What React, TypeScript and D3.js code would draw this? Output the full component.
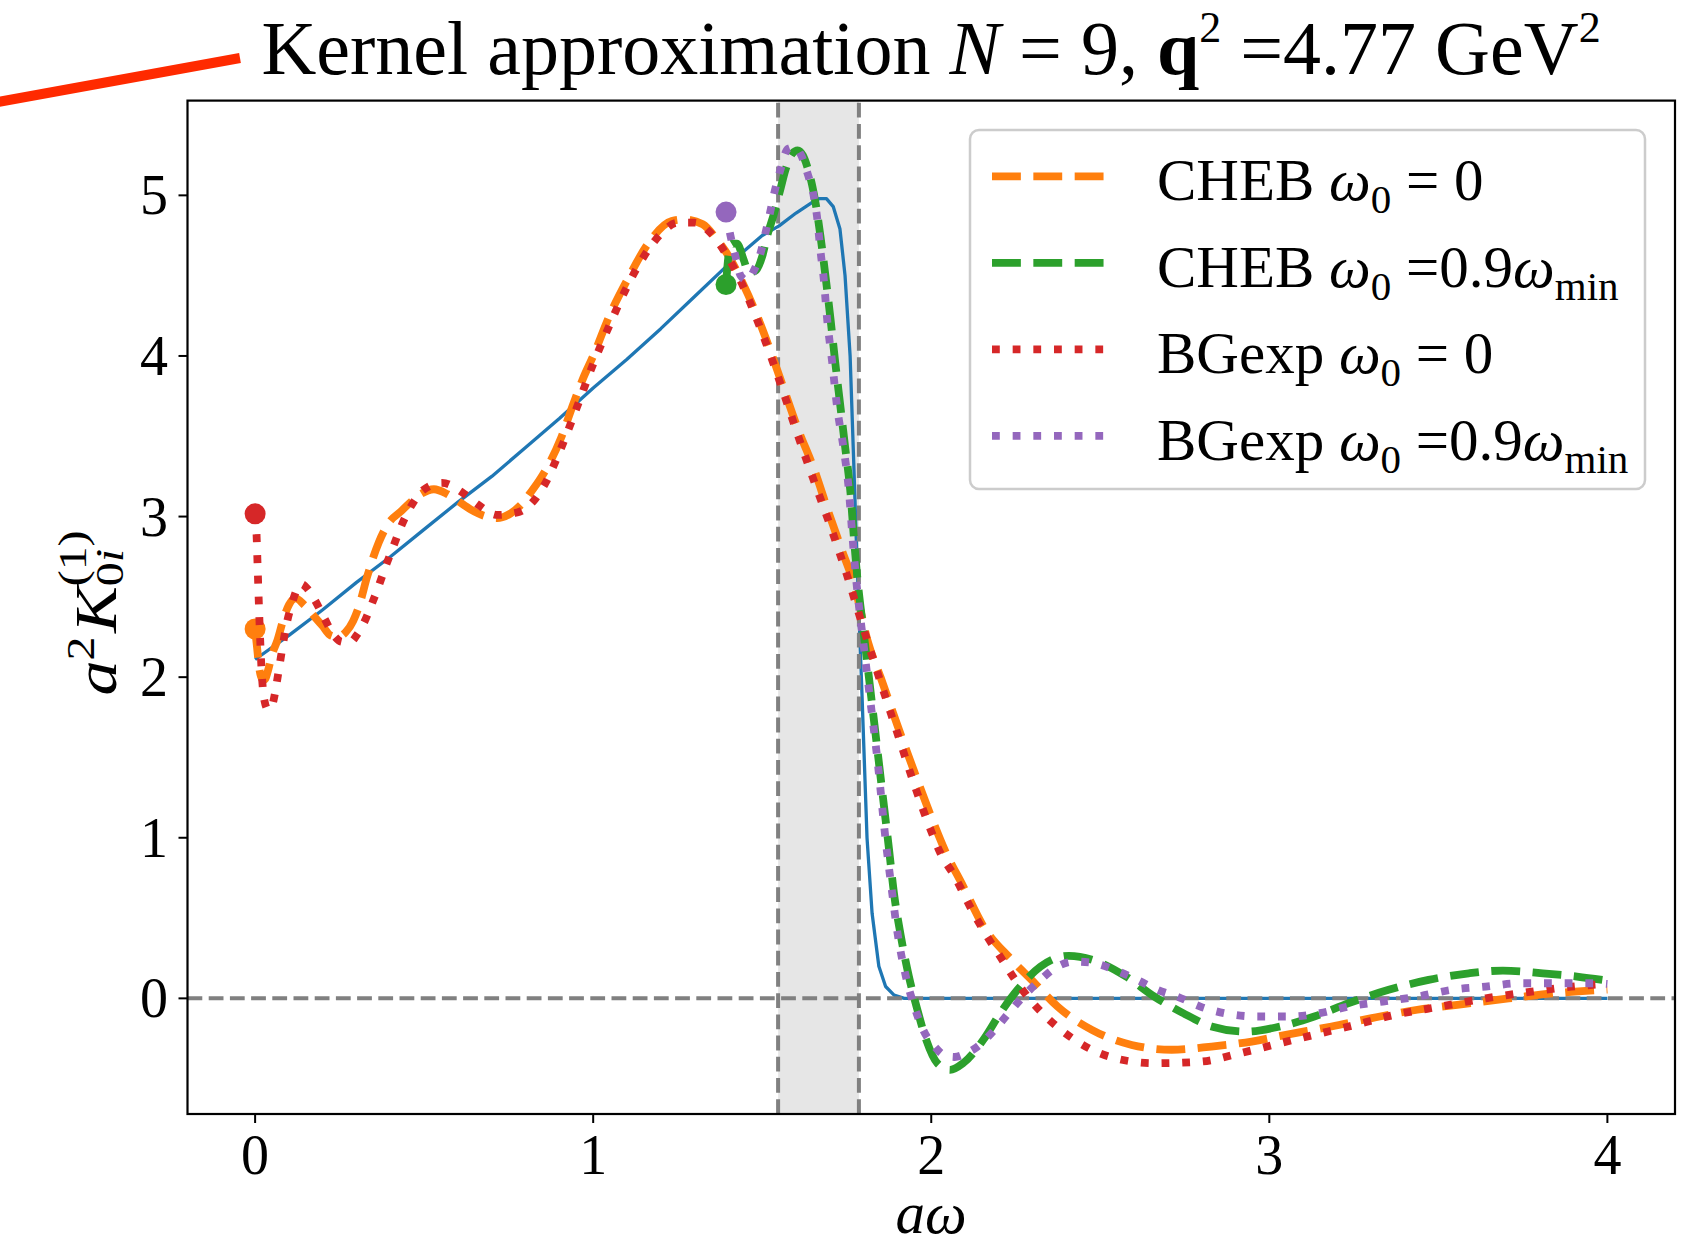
import React from 'react';
import * as d3 from 'd3';

const W = 1696;
const H = 1248;
const FONT = "'Liberation Serif', 'Times New Roman', serif";

const xTicks = [0, 1, 2, 3, 4];
const yTicks = [0, 1, 2, 3, 4, 5];
const xDomain = [-0.2, 4.2];
const yDomain = [-0.72, 5.59];
const bandRange = [1.547, 1.786];

// exact kernel (solid blue)
const exactX = [0, 0.1, 0.2, 0.3, 0.4, 0.5, 0.6, 0.7, 0.8, 0.9, 1.0, 1.1, 1.2, 1.3, 1.4, 1.5, 1.55, 1.6, 1.65, 1.67, 1.69, 1.71, 1.73, 1.745, 1.76, 1.77, 1.78, 1.795, 1.81, 1.825, 1.845, 1.865, 1.89, 1.92, 2.0, 2.5, 3.0, 3.5, 4.0];
const exactY = [2.11, 2.26, 2.42, 2.59, 2.75, 2.92, 3.09, 3.25, 3.43, 3.61, 3.80, 3.98, 4.17, 4.37, 4.57, 4.75, 4.81, 4.89, 4.96, 4.98, 4.98, 4.93, 4.79, 4.50, 4.00, 3.38, 2.75, 1.9, 1.0, 0.53, 0.2, 0.074, 0.02, 0.0, 0, 0, 0, 0, 0];

// CHEB omega0 = 0 (orange dashed)
const chebZeroX = [0, 0.006, 0.012, 0.02, 0.028, 0.038, 0.05, 0.066, 0.085, 0.1, 0.12, 0.145, 0.17, 0.199, 0.223, 0.245, 0.268, 0.29, 0.307, 0.332, 0.366, 0.395, 0.43, 0.46, 0.49, 0.529, 0.568, 0.598, 0.637, 0.677, 0.716, 0.756, 0.785, 0.815, 0.845, 0.875, 0.905, 0.941, 0.97, 1.0, 1.05, 1.1, 1.166, 1.232, 1.271, 1.324, 1.364, 1.404, 1.443, 1.483, 1.523, 1.563, 1.603, 1.656, 1.694, 1.734, 1.774, 1.814, 1.85, 1.9, 1.95, 2.0, 2.044, 2.094, 2.154, 2.238, 2.306, 2.373, 2.475, 2.593, 2.711, 2.829, 2.948, 3.049, 3.184, 3.303, 3.438, 3.556, 3.708, 3.843, 4.0];
const chebZeroY = [2.30, 2.18, 2.06, 1.99, 1.985, 2.04, 2.14, 2.23, 2.37, 2.45, 2.49, 2.45, 2.39, 2.32, 2.26, 2.25, 2.28, 2.35, 2.44, 2.63, 2.84, 2.96, 3.03, 3.09, 3.14, 3.17, 3.14, 3.10, 3.045, 3.005, 2.99, 3.02, 3.07, 3.15, 3.24, 3.35, 3.49, 3.70, 3.86, 4.0, 4.26, 4.47, 4.71, 4.84, 4.85, 4.82, 4.73, 4.61, 4.45, 4.26, 4.04, 3.80, 3.56, 3.28, 3.04, 2.80, 2.56, 2.21, 2.0, 1.70, 1.41, 1.13, 0.905, 0.70, 0.45, 0.24, 0.095, -0.05, -0.196, -0.29, -0.32, -0.30, -0.269, -0.227, -0.175, -0.123, -0.071, -0.04, 0.0, 0.032, 0.055];

// CHEB omega0 = 0.9 omega_min (green dashed)
const chebShiftX = [1.393, 1.40, 1.41, 1.425, 1.445, 1.46, 1.48, 1.50, 1.515, 1.534, 1.554, 1.569, 1.589, 1.605, 1.62, 1.633, 1.648, 1.658, 1.672, 1.687, 1.702, 1.716, 1.731, 1.746, 1.761, 1.770, 1.780, 1.80, 1.82, 1.84, 1.86, 1.875, 1.89, 1.909, 1.934, 1.959, 1.985, 2.018, 2.056, 2.094, 2.154, 2.204, 2.255, 2.323, 2.407, 2.491, 2.576, 2.66, 2.745, 2.829, 2.931, 3.032, 3.133, 3.235, 3.353, 3.471, 3.59, 3.691, 3.809, 3.91, 4.0];
const chebShiftY = [4.445, 4.62, 4.70, 4.70, 4.60, 4.52, 4.53, 4.62, 4.75, 4.88, 5.04, 5.16, 5.26, 5.28, 5.25, 5.18, 5.06, 4.95, 4.75, 4.50, 4.23, 3.96, 3.69, 3.42, 3.15, 2.90, 2.65, 2.28, 1.92, 1.56, 1.2, 0.93, 0.65, 0.40, 0.136, -0.071, -0.258, -0.404, -0.445, -0.404, -0.258, -0.092, 0.053, 0.198, 0.265, 0.229, 0.136, 0.011, -0.092, -0.175, -0.207, -0.175, -0.113, -0.03, 0.053, 0.115, 0.156, 0.173, 0.156, 0.136, 0.11];

// BGexp omega0 = 0 (red dotted)
const bgZeroX = [0, 0.004, 0.008, 0.012, 0.016, 0.021, 0.028, 0.038, 0.048, 0.055, 0.062, 0.072, 0.082, 0.093, 0.108, 0.122, 0.137, 0.155, 0.174, 0.204, 0.233, 0.258, 0.282, 0.3, 0.32, 0.344, 0.366, 0.386, 0.41, 0.432, 0.46, 0.497, 0.553, 0.613, 0.662, 0.716, 0.775, 0.825, 0.859, 0.9, 0.95, 1.0, 1.05, 1.1, 1.15, 1.2, 1.25, 1.3, 1.35, 1.4, 1.44, 1.48, 1.52, 1.56, 1.6, 1.65, 1.7, 1.75, 1.8, 1.85, 1.9, 1.95, 2.0, 2.027, 2.069, 2.12, 2.17, 2.204, 2.247, 2.289, 2.339, 2.424, 2.525, 2.66, 2.796, 2.914, 3.032, 3.133, 3.235, 3.37, 3.505, 3.64, 3.776, 3.894, 4.0];
const bgZeroY = [3.017, 2.9, 2.65, 2.40, 2.18, 1.98, 1.85, 1.80, 1.81, 1.86, 1.94, 2.07, 2.20, 2.33, 2.45, 2.54, 2.58, 2.55, 2.49, 2.37, 2.26, 2.22, 2.22, 2.26, 2.33, 2.45, 2.57, 2.69, 2.82, 2.94, 3.06, 3.165, 3.21, 3.15, 3.07, 3.01, 3.025, 3.10, 3.21, 3.40, 3.67, 3.95, 4.2, 4.43, 4.62, 4.76, 4.83, 4.83, 4.76, 4.61, 4.45, 4.25, 4.03, 3.79, 3.54, 3.24, 2.95, 2.64, 2.30, 1.97, 1.65, 1.33, 1.04, 0.905, 0.76, 0.55, 0.37, 0.26, 0.12, 0.0, -0.113, -0.258, -0.362, -0.404, -0.394, -0.341, -0.279, -0.227, -0.175, -0.103, -0.051, 0.0, 0.042, 0.073, 0.09];

// BGexp omega0 = 0.9 omega_min (purple dotted)
const bgShiftX = [1.393, 1.406, 1.421, 1.436, 1.455, 1.475, 1.495, 1.51, 1.524, 1.534, 1.554, 1.576, 1.595, 1.613, 1.635, 1.652, 1.662, 1.672, 1.682, 1.692, 1.707, 1.721, 1.741, 1.756, 1.766, 1.776, 1.80, 1.82, 1.84, 1.867, 1.883, 1.90, 1.925, 1.95, 1.976, 2.01, 2.04, 2.069, 2.1, 2.137, 2.187, 2.229, 2.272, 2.323, 2.373, 2.424, 2.483, 2.542, 2.61, 2.669, 2.728, 2.796, 2.897, 2.965, 3.066, 3.15, 3.235, 3.336, 3.438, 3.539, 3.64, 3.742, 3.843, 3.961, 4.0];
const bgShiftY = [4.896, 4.75, 4.62, 4.50, 4.47, 4.53, 4.64, 4.77, 4.90, 5.0, 5.16, 5.29, 5.30, 5.26, 5.13, 5.00, 4.87, 4.66, 4.48, 4.23, 3.96, 3.69, 3.42, 3.17, 2.90, 2.65, 2.2, 1.85, 1.5, 0.95, 0.68, 0.41, 0.136, -0.051, -0.196, -0.30, -0.355, -0.365, -0.345, -0.30, -0.196, -0.092, 0.011, 0.115, 0.198, 0.229, 0.219, 0.178, 0.115, 0.053, 0.011, -0.051, -0.103, -0.113, -0.113, -0.092, -0.051, -0.02, 0.011, 0.053, 0.073, 0.094, 0.094, 0.094, 0.09];

const legendMethods = ['CHEB', 'CHEB', 'BGexp', 'BGexp'];
const legendOmega0 = ['0', '0.9', '0', '0.9'];

const LW = 7.8;
const DASHED = `${3.7 * LW},${1.6 * LW}`;
const DOTTED = `${1 * LW},${1.65 * LW}`;

const series = [
  { xs: chebZeroX, ys: chebZeroY, color: '#ff7f0e', dash: DASHED },
  { xs: chebShiftX, ys: chebShiftY, color: '#2ca02c', dash: DASHED },
  { xs: bgZeroX, ys: bgZeroY, color: '#d62728', dash: DOTTED },
  { xs: bgShiftX, ys: bgShiftY, color: '#9467bd', dash: DOTTED },
];

function LegendLabel({ method, w0 }: { method: string; w0: string }) {
  const sub = 41;
  const sh = 13;
  return (
    <>
      <tspan>{method + ' '}</tspan>
      <tspan fontStyle="italic">ω</tspan>
      <tspan fontSize={sub} dy={sh}>0</tspan>
      {w0 === '0' ? (
        <tspan dy={-sh}>{' = 0'}</tspan>
      ) : (
        <>
          <tspan dy={-sh}>{' =0.9'}</tspan>
          <tspan fontStyle="italic">ω</tspan>
          <tspan fontSize={sub} dy={sh}>min</tspan>
        </>
      )}
    </>
  );
}

export default function App() {
  const left = 187.5, right = 1675, top = 100.6, bottom = 1114;
  const x = d3.scaleLinear().domain(xDomain).range([left, right]);
  const y = d3.scaleLinear().domain(yDomain).range([bottom, top]);

  const lineOf = (xs: number[], ys: number[], curve: any) =>
    d3.line<number>().x((d, i) => x(xs[i])).y((d) => y(d)).curve(curve)(ys) || '';

  const grayDash = '14.8,6.4';

  const legendX0 = 992, legendX1 = 1109, legendTextX = 1157;
  const legendRows = [176.3, 262.8, 349.4, 435.9];

  return (
    <svg width={W} height={H} viewBox={`0 0 ${W} ${H}`}
      style={{ position: 'absolute', left: 0, top: 0, display: 'block', background: '#fff' }}
      fontFamily={FONT}>
      <defs>
        <clipPath id="plotclip">
          <rect x={left} y={top} width={right - left} height={bottom - top} />
        </clipPath>
      </defs>
      <rect x={0} y={0} width={W} height={H} fill="#fff" />

      {/* red annotation stroke */}
      <line x1={-12} y1={103.8} x2={240} y2={58} stroke="#ff2a00" strokeWidth={10} />

      {/* title */}
      <text x={931} y={74} textAnchor="middle" fontSize={76} fill="#000">
        <tspan>{'Kernel approximation '}</tspan>
        <tspan fontStyle="italic">N</tspan>
        <tspan>{' = 9, '}</tspan>
        <tspan fontWeight="bold">q</tspan>
        <tspan fontSize={44} dy={-32}>2</tspan>
        <tspan dy={32}>{' =4.77 GeV'}</tspan>
        <tspan fontSize={44} dy={-32}>2</tspan>
      </text>

      <g clipPath="url(#plotclip)">
        {/* shaded band */}
        <rect x={x(bandRange[0])} y={top} width={x(bandRange[1]) - x(bandRange[0])} height={bottom - top}
          fill="#808080" fillOpacity={0.2} />
        {/* exact kernel */}
        <path d={lineOf(exactX, exactY, d3.curveLinear)} fill="none" stroke="#1f77b4" strokeWidth={3.3}
          strokeLinejoin="round" />
        {/* reference lines */}
        <line x1={left} x2={right} y1={y(0)} y2={y(0)} stroke="#808080" strokeWidth={4} strokeDasharray={grayDash} />
        {bandRange.map((b, i) => (
          <line key={i} x1={x(b)} x2={x(b)} y1={bottom} y2={top} stroke="#808080" strokeWidth={4}
            strokeDasharray={grayDash} />
        ))}
        {/* approximations */}
        {series.map((s, i) => (
          <g key={i}>
            <path d={lineOf(s.xs, s.ys, d3.curveMonotoneX)} fill="none" stroke={s.color} strokeWidth={LW}
              strokeDasharray={s.dash} strokeLinecap="butt" />
            <circle cx={x(s.xs[0])} cy={y(s.ys[0])} r={10.5} fill={s.color} />
          </g>
        ))}
      </g>

      {/* axes frame */}
      <rect x={left} y={top} width={right - left} height={bottom - top} fill="none" stroke="#000" strokeWidth={2.2} />

      {/* x ticks */}
      {xTicks.map((t) => (
        <g key={t}>
          <line x1={x(t)} x2={x(t)} y1={bottom} y2={bottom + 9} stroke="#000" strokeWidth={2} />
          <text x={x(t)} y={1174} textAnchor="middle" fontSize={56}>{t}</text>
        </g>
      ))}
      {/* y ticks */}
      {yTicks.map((t) => (
        <g key={t}>
          <line x1={left - 9} x2={left} y1={y(t)} y2={y(t)} stroke="#000" strokeWidth={2} />
          <text x={168} y={y(t) + 19} textAnchor="end" fontSize={56}>{t}</text>
        </g>
      ))}

      {/* axis labels */}
      <text x={931} y={1233} textAnchor="middle" fontSize={59} fontStyle="italic">aω</text>
      <text transform="translate(116,613) rotate(-90) scale(1.17,1)" textAnchor="middle" fontSize={60}>
        <tspan fontStyle="italic">a</tspan>
        <tspan fontSize={41} dy={-22}>2</tspan>
        <tspan fontStyle="italic" dx={3} dy={22}>K</tspan>
        <tspan fontSize={41} dy={7}>0</tspan>
        <tspan fontSize={41} fontStyle="italic">i</tspan>
        <tspan fontSize={41} dx={-32} dy={-37}>(1)</tspan>
      </text>

      {/* legend */}
      <rect x={970} y={130} width={675} height={359} rx={9} ry={9} fill="#fff" fillOpacity={0.8}
        stroke="#cccccc" strokeWidth={2.5} />
      {series.map((s, i) => (
        <g key={i}>
          <line x1={legendX0} x2={legendX1} y1={legendRows[i]} y2={legendRows[i]} stroke={s.color}
            strokeWidth={LW} strokeDasharray={s.dash} />
          <text x={legendTextX} y={legendRows[i] + 24} fontSize={59}>
            <LegendLabel method={legendMethods[i]} w0={legendOmega0[i]} />
          </text>
        </g>
      ))}
    </svg>
  );
}
